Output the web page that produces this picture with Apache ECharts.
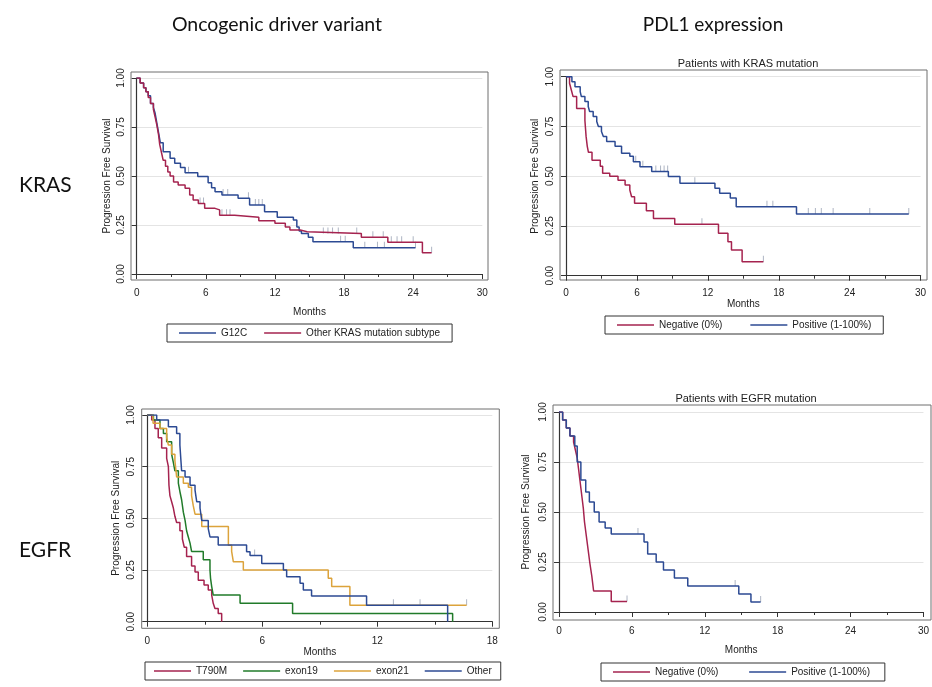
<!DOCTYPE html>
<html>
<head>
<meta charset="utf-8">
<script src="https://cdn.jsdelivr.net/npm/echarts@6/dist/echarts.min.js"></script>
<style>
  body { margin: 0; background: #fff; }
  #Map { width: 932px; height: 687px; }
</style>
</head>
<body>
<div id="Map"></div>
<script>
// ---- data (months, survival) ----

// KRAS, by driver subtype
var g12cT = [0, 0.3, 0.6, 0.8, 1.0, 1.2, 1.45, 1.6, 1.75, 1.9, 2.05, 2.3, 2.9, 3.3, 3.8, 4.2, 5.3, 6.2, 6.5, 6.8, 7.4, 8.8, 9.8, 11.1, 12.2, 13.6, 13.9, 14.1, 14.3, 14.9, 15.3, 18.8, 24.2];
var g12cS = [1, 0.975, 0.95, 0.93, 0.91, 0.87, 0.85, 0.82, 0.77, 0.72, 0.67, 0.624, 0.59, 0.565, 0.544, 0.517, 0.497, 0.465, 0.44, 0.42, 0.403, 0.386, 0.352, 0.318, 0.29, 0.276, 0.24, 0.22, 0.207, 0.187, 0.165, 0.134, 0.134];
var g12cCens = [4.5, 7.5, 7.9, 9.7, 10.3, 10.6, 10.9, 17.7, 18.1, 19.8, 20.9, 21.5, 24.2];
var otherKrasT = [0, 0.3, 0.6, 0.8, 1.0, 1.2, 1.45, 1.6, 1.75, 1.9, 2.0, 2.15, 2.3, 2.5, 2.7, 2.9, 3.2, 3.6, 4.2, 4.6, 4.9, 5.35, 5.9, 6.8, 7.2, 8.5, 10.6, 12.0, 12.9, 13.3, 14.2, 14.8, 19.5, 21.8, 24.8, 25.6];
var otherKrasS = [1, 0.975, 0.95, 0.93, 0.90, 0.87, 0.84, 0.80, 0.76, 0.71, 0.66, 0.62, 0.58, 0.55, 0.52, 0.50, 0.47, 0.454, 0.437, 0.403, 0.378, 0.36, 0.335, 0.327, 0.30, 0.29, 0.272, 0.259, 0.24, 0.224, 0.216, 0.207, 0.187, 0.162, 0.109, 0.109];
var otherKrasCens = [5.5, 5.8, 7.4, 7.8, 8.1, 16.2, 16.6, 17.0, 17.5, 19.1, 20.5, 21.4, 22.1, 22.6, 23.0, 24.0, 25.6];

// KRAS, by PDL1
var krasNegT = [0, 0.3, 0.45, 0.6, 0.9, 1.6, 1.65, 1.7, 1.8, 1.9, 2.2, 2.9, 3.1, 3.7, 4.4, 5.0, 5.4, 5.55, 5.8, 6.8, 7.4, 9.2, 12.9, 13.7, 14.0, 14.9, 16.7];
var krasNegS = [1, 0.967, 0.933, 0.9, 0.84, 0.78, 0.74, 0.70, 0.65, 0.62, 0.58, 0.55, 0.515, 0.50, 0.48, 0.456, 0.43, 0.397, 0.364, 0.327, 0.288, 0.258, 0.213, 0.171, 0.129, 0.07, 0.07];
var krasNegCens = [11.5, 16.7];
var krasPosT = [0, 0.5, 0.76, 1.2, 1.3, 1.6, 1.88, 2.0, 2.3, 2.6, 2.74, 3.0, 3.16, 3.44, 4.15, 4.7, 5.4, 5.7, 6.26, 7.25, 8.66, 9.64, 12.6, 13.0, 13.9, 14.4, 19.5, 29.0];
var krasPosS = [1, 0.975, 0.95, 0.925, 0.90, 0.875, 0.85, 0.825, 0.80, 0.775, 0.75, 0.725, 0.70, 0.675, 0.65, 0.615, 0.60, 0.573, 0.548, 0.523, 0.498, 0.464, 0.44, 0.414, 0.39, 0.347, 0.31, 0.31];
var krasPosCens = [5.9, 6.5, 7.6, 8.0, 8.3, 8.6, 10.9, 17.0, 17.5, 20.5, 21.1, 21.6, 22.6, 25.7, 29.0];

// EGFR, by driver subtype
var t790mT = [0, 0.23, 0.4, 0.57, 0.75, 1.01, 1.1, 1.13, 1.18, 1.27, 1.36, 1.44, 1.53, 1.7, 1.83, 1.93, 2.05, 2.31, 2.49, 2.66, 2.96, 3.18, 3.36, 3.44, 3.53, 3.7, 3.88];
var t790mS = [1, 0.976, 0.935, 0.89, 0.84, 0.79, 0.75, 0.66, 0.61, 0.58, 0.55, 0.51, 0.48, 0.44, 0.40, 0.36, 0.315, 0.27, 0.24, 0.2, 0.178, 0.153, 0.129, 0.089, 0.064, 0.04, 0];
var exon19T = [0, 0.32, 0.66, 0.84, 1.01, 1.27, 1.36, 1.44, 1.62, 1.7, 1.79, 1.88, 1.97, 2.05, 2.14, 2.23, 2.31, 2.92, 3.27, 3.3, 3.36, 3.44, 4.84, 7.58, 15.93];
var exon19S = [1, 0.976, 0.935, 0.91, 0.87, 0.81, 0.77, 0.73, 0.67, 0.63, 0.59, 0.53, 0.49, 0.44, 0.41, 0.38, 0.34, 0.30, 0.25, 0.21, 0.17, 0.129, 0.089, 0.04, 0];
var exon21T = [0, 0.3, 0.66, 1.01, 1.1, 1.27, 1.44, 1.53, 1.88, 2.14, 2.31, 2.4, 2.49, 2.84, 4.23, 4.4, 4.49, 5.01, 9.44, 9.62, 10.57, 16.66];
var exon21S = [1, 0.96, 0.935, 0.89, 0.855, 0.81, 0.78, 0.70, 0.67, 0.65, 0.61, 0.56, 0.52, 0.46, 0.37, 0.34, 0.29, 0.25, 0.21, 0.17, 0.08, 0.08];
var exon21Cens = [12.84, 14.23, 16.66];
var egfrOtherT = [0, 0.49, 1.1, 1.53, 1.7, 1.79, 1.97, 2.23, 2.49, 2.58, 2.75, 2.84, 3.18, 3.27, 3.7, 5.18, 5.36, 5.97, 7.1, 7.27, 7.97, 8.14, 8.57, 11.44, 15.67];
var egfrOtherS = [1, 0.976, 0.943, 0.91, 0.855, 0.73, 0.70, 0.66, 0.637, 0.58, 0.55, 0.49, 0.45, 0.41, 0.371, 0.339, 0.32, 0.282, 0.25, 0.218, 0.186, 0.153, 0.124, 0.08, 0];
var egfrOtherCens = [5.6];

// EGFR, by PDL1
var egfrNegT = [0, 0.3, 0.6, 0.9, 1.2, 1.35, 1.5, 1.6, 1.7, 1.8, 1.9, 2.0, 2.1, 2.25, 2.4, 2.55, 2.7, 2.85, 4.3, 5.6];
var egfrNegS = [1, 0.96, 0.92, 0.88, 0.85, 0.81, 0.77, 0.72, 0.67, 0.62, 0.57, 0.52, 0.45, 0.38, 0.31, 0.24, 0.18, 0.105, 0.053, 0.053];
var egfrNegCens = [5.6];
var egfrPosT = [0, 0.3, 0.6, 0.9, 1.3, 1.5, 1.8, 2.2, 2.5, 2.9, 3.3, 3.8, 4.3, 7.0, 7.3, 8.0, 8.6, 9.5, 10.6, 14.8, 15.8, 16.6];
var egfrPosS = [1, 0.96, 0.92, 0.88, 0.83, 0.75, 0.66, 0.60, 0.55, 0.50, 0.45, 0.42, 0.39, 0.35, 0.29, 0.25, 0.21, 0.17, 0.13, 0.09, 0.05, 0.05];
var egfrPosCens = [6.5, 14.5, 16.6];

// ---- colours / fonts ----
var BLUE = '#2c4a93', RED = '#a5234f', GREEN = '#217b2a', ORANGE = '#dca33b';
var FONT = 'Liberation Sans';
var bigFont = 'Lato';

var myChart = echarts.init(document.getElementById('Map'));

// panel layout: frame box and the inner data box (px)
var panels = [
  { frame: [131, 72, 357, 208],        data: [136.7, 78, 345.6, 196],   xmax: 30, offX: 6,   offY: 5.7, gapX: 27, gapY: 19 },
  { frame: [560, 70, 367, 210],        data: [566, 76.7, 354.6, 199],   xmax: 30, offX: 4.3, offY: 6,   gapX: 19, gapY: 20 },
  { frame: [141.7, 409, 357.6, 219.3], data: [147.3, 415, 345, 206.7],  xmax: 18, offX: 6.6, offY: 5.6, gapX: 16, gapY: 20 },
  { frame: [553, 405, 378, 215],       data: [559, 412, 366, 200],      xmax: 30, offX: 6,   offY: 6,   gapX: 27, gapY: 22 }
];

function survAt(T, S, t) {
  var s = S[0];
  for (var i = 0; i < T.length; i++) { if (T[i] <= t) s = S[i]; }
  return s;
}

var grid = [], xAxis = [], yAxis = [], series = [];
panels.forEach(function (p, i) {
  // outer frame (top/right border), then the data area inside it
  grid.push({ left: p.frame[0], top: p.frame[1], width: p.frame[2], height: p.frame[3],
              show: true, borderColor: '#6f6f6f', borderWidth: 1, backgroundColor: '#fff' });
  grid.push({ left: p.data[0], top: p.data[1], width: p.data[2], height: p.data[3] });
  xAxis.push({ gridIndex: 2 * i, type: 'value', show: false, min: 0, max: 1 });
  yAxis.push({ gridIndex: 2 * i, type: 'value', show: false, min: 0, max: 1 });
  xAxis.push({
    gridIndex: 2 * i + 1, type: 'value', min: 0, max: p.xmax, interval: 6, offset: p.offX,
    name: 'Months', nameLocation: 'middle', nameGap: p.gapX,
    nameTextStyle: { fontFamily: FONT, fontSize: 10, color: '#222' },
    axisLine: { lineStyle: { color: '#333', width: 1.2 } },
    axisTick: { length: 5, lineStyle: { color: '#333' } },
    minorTick: { show: true, splitNumber: 2, length: 3, lineStyle: { color: '#333' } },
    axisLabel: { fontFamily: FONT, fontSize: 10, color: '#222', margin: 8 },
    splitLine: { show: false }
  });
  yAxis.push({
    gridIndex: 2 * i + 1, type: 'value', min: 0, max: 1, interval: 0.25, offset: p.offY,
    name: 'Progression Free Survival', nameLocation: 'middle', nameGap: p.gapY,
    nameTextStyle: { fontFamily: FONT, fontSize: 10, color: '#222' },
    axisLine: { show: true, lineStyle: { color: '#333', width: 1.2 } },
    axisTick: { show: true, length: 5, lineStyle: { color: '#333' } },
    axisLabel: { fontFamily: FONT, fontSize: 10, color: '#222', rotate: 90, margin: 5,
                 formatter: function (v) { return v.toFixed(2); } },
    splitLine: { show: true, lineStyle: { color: '#e4e4e4', width: 1 } }
  });
});

function addCurve(panel, name, T, S, color, cens) {
  var pts = T.map(function (t, k) { return [t, S[k]]; });
  series.push({
    name: name, type: 'line', step: 'end', symbol: 'none',
    xAxisIndex: 2 * panel + 1, yAxisIndex: 2 * panel + 1,
    lineStyle: { color: color, width: 1.5 }, itemStyle: { color: color },
    data: pts, z: 3
  });
  if (cens) {
    series.push({
      name: name + ' censored', type: 'scatter', symbol: 'rect', symbolSize: [1, 6], symbolOffset: [0, -3],
      xAxisIndex: 2 * panel + 1, yAxisIndex: 2 * panel + 1,
      itemStyle: { color: '#9aa2b4' }, silent: true, z: 2,
      data: cens.map(function (t) { return [t, survAt(T, S, t)]; })
    });
  }
}

addCurve(0, 'G12C', g12cT, g12cS, BLUE, g12cCens);
addCurve(0, 'Other KRAS mutation subtype', otherKrasT, otherKrasS, RED, otherKrasCens);
addCurve(1, 'Negative (0%)', krasNegT, krasNegS, RED, krasNegCens);
addCurve(1, 'Positive (1-100%)', krasPosT, krasPosS, BLUE, krasPosCens);
addCurve(2, 'T790M', t790mT, t790mS, RED, null);
addCurve(2, 'exon19', exon19T, exon19S, GREEN, null);
addCurve(2, 'exon21', exon21T, exon21S, ORANGE, exon21Cens);
addCurve(2, 'Other', egfrOtherT, egfrOtherS, BLUE, egfrOtherCens);
// trailing space keeps the bottom-right legend independent from the top-right one
addCurve(3, 'Negative (0%) ', egfrNegT, egfrNegS, RED, egfrNegCens);
addCurve(3, 'Positive (1-100%) ', egfrPosT, egfrPosS, BLUE, egfrPosCens);

function legendBox(names, left, top, gap, padX) {
  return {
    data: names, left: left, top: top, orient: 'horizontal',
    icon: 'rect', itemWidth: 37, itemHeight: 1.6, itemGap: gap,
    padding: [4, padX], borderColor: '#333', borderWidth: 1,
    selectedMode: false,
    textStyle: { fontFamily: FONT, fontSize: 10, color: '#222' }
  };
}

var option = {
  animation: false,
  backgroundColor: '#fff',
  title: [
    { text: 'Oncogenic driver variant', left: 272, top: 10, textAlign: 'center',
      textStyle: { fontFamily: bigFont, fontSize: 19.5, fontWeight: 'normal', color: '#111' } },
    { text: 'PDL1 expression', left: 708, top: 10, textAlign: 'center',
      textStyle: { fontFamily: bigFont, fontSize: 19, fontWeight: 'normal', color: '#111' } },
    { text: 'KRAS', left: 14, top: 170,
      textStyle: { fontFamily: bigFont, fontSize: 21, fontWeight: 'normal', color: '#111' } },
    { text: 'EGFR', left: 14, top: 535,
      textStyle: { fontFamily: bigFont, fontSize: 21, fontWeight: 'normal', color: '#111' } },
    { text: 'Patients with KRAS mutation', left: 743, top: 53, textAlign: 'center',
      textStyle: { fontFamily: FONT, fontSize: 11, fontWeight: 'normal', color: '#222' } },
    { text: 'Patients with EGFR mutation', left: 741, top: 388, textAlign: 'center',
      textStyle: { fontFamily: FONT, fontSize: 11, fontWeight: 'normal', color: '#222' } }
  ],
  legend: [
    legendBox(['G12C', 'Other KRAS mutation subtype'], 167, 324, 17, 12),
    legendBox(['Negative (0%)', 'Positive (1-100%)'], 605, 316, 28, 12),
    legendBox(['T790M', 'exon19', 'exon21', 'Other'], 145, 662, 16, 9),
    legendBox(['Negative (0%) ', 'Positive (1-100%) '], 601, 663, 28, 12)
  ],
  grid: grid,
  xAxis: xAxis,
  yAxis: yAxis,
  series: series
};
myChart.setOption(option);
</script>
</body>
</html>
